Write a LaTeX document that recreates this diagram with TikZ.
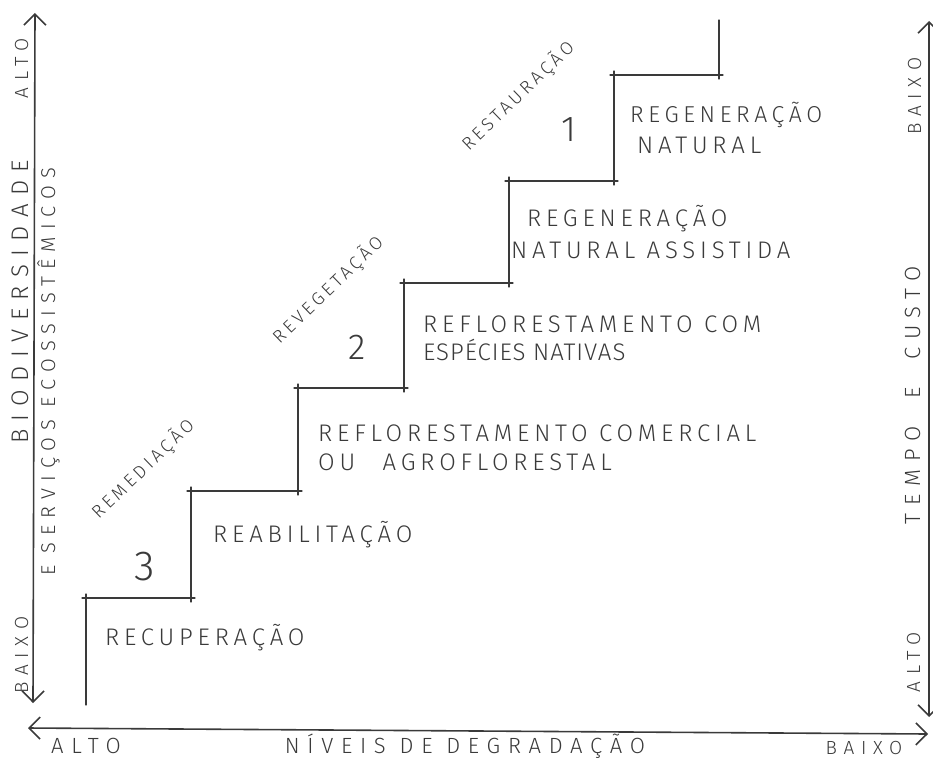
\documentclass[tikz,border=0pt]{standalone}
\usepackage{fontspec}
\newfontfamily\handfont[LetterSpace=20]{Fira Sans Light}
\newfontfamily\handwide[LetterSpace=35]{Fira Sans Light}
\newfontfamily\handtight[LetterSpace=4]{Fira Sans Light}
\usetikzlibrary{arrows.meta}
\definecolor{pencil}{HTML}{3A3A3A}
\tikzset{
  axis/.style={pencil, line width=1.6pt, {Straight Barb[length=11pt,width=22pt]}-{Straight Barb[length=11pt,width=22pt]}},
  stair/.style={pencil, line width=1.1pt, shorten <=-4pt, shorten >=-4pt},
  axislabel/.style={pencil, font=\handwide\fontsize{22}{22}\selectfont, inner sep=0pt, anchor=base},
  endlabel/.style={axislabel, font=\handwide\fontsize{19}{19}\selectfont},
  steplabel/.style={pencil, font=\handfont\fontsize{24}{24}\selectfont, inner sep=0pt, anchor=base west},
  phaselabel/.style={pencil, rotate=44, font=\handfont\fontsize{18}{18}\selectfont, inner sep=0pt},
  steplevel/.style={pencil, font=\handfont\fontsize{36}{36}\selectfont, inner sep=0pt}
}
\begin{document}
\begin{tikzpicture}[x=1pt, y=-1pt, line cap=round]
    \useasboundingbox (0,0) rectangle (933,760);
    % axes
    \coordinate (ytop) at (35,13);
    \coordinate (ybot) at (33,703);
    \coordinate (xleft) at (28,728);
    \coordinate (xright) at (928,734);
    \coordinate (ztop) at (929,21);
    \coordinate (zbot) at (929,717);
    \draw[axis] (ybot) -- (ytop);
    \draw[axis] (xleft) -- (xright);
    \draw[axis] (zbot) -- (ztop);
    \node[endlabel, rotate=90] (yalto) at (28,68) {ALTO};
    \node[axislabel, rotate=90, font=\handwide\fontsize{24}{24}\selectfont] (ybio) at (28,302) {BIODIVERSIDADE};
    \node[axislabel, rotate=90, font=\handwide\fontsize{20}{20}\selectfont] (yserv) at (55,372) {E SERVIÇOS ECOSSISTÊMICOS};
    \node[endlabel, rotate=90] (ybaixo) at (28,655) {BAIXO};
    \node[axislabel] (xalto) at (86,753) {ALTO};
    \node[axislabel] (xname) at (465,753) {NÍVEIS DE DEGRADAÇÃO};
    \node[endlabel] (xbaixo) at (864,754) {BAIXO};
    \node[endlabel, rotate=90] (zbaixo) at (921,96) {BAIXO};
    \node[axislabel, rotate=90] (zname) at (920,395) {TEMPO\hspace{14pt} E\hspace{14pt} CUSTO};
    \node[endlabel, rotate=90] (zalto) at (920,662) {ALTO};
    % stairs
    \coordinate (s0) at (86,701);
    \coordinate (s1) at (86,598);
    \coordinate (s2) at (191,598);
    \coordinate (s3) at (191,491);
    \coordinate (s4) at (298,491);
    \coordinate (s5) at (298,388);
    \coordinate (s6) at (404,388);
    \coordinate (s7) at (404,283);
    \coordinate (s8) at (509,283);
    \coordinate (s9) at (509,181);
    \coordinate (s10) at (614,181);
    \coordinate (s11) at (614,75);
    \coordinate (s12) at (719,75);
    \coordinate (s13) at (719,24);
    \draw[stair] (s0) -- (s1);
    \draw[stair] (s1) -- (s2);
    \draw[stair] (s2) -- (s3);
    \draw[stair] (s3) -- (s4);
    \draw[stair] (s4) -- (s5);
    \draw[stair] (s5) -- (s6);
    \draw[stair] (s6) -- (s7);
    \draw[stair] (s7) -- (s8);
    \draw[stair] (s8) -- (s9);
    \draw[stair] (s9) -- (s10);
    \draw[stair] (s10) -- (s11);
    \draw[stair] (s11) -- (s12);
    \draw[stair] (s12) -- (s13);
    % step texts
    \node[steplabel] (recup) at (105,645) {RECUPERAÇÃO};
    \node[steplabel] (reab) at (213,542) {REABILITAÇÃO};
    \node[steplabel] (reflcom1) at (318,441) {REFLORESTAMENTO COMERCIAL};
    \node[steplabel] (reflcom2) at (318,470) {OU\hspace{16pt} AGROFLORESTAL};
    \node[steplabel] (reflnat1) at (423,332) {REFLORESTAMENTO COM};
    \node[steplabel, font=\handtight\fontsize{24}{24}\selectfont] (reflnat2) at (423,360) {ESPÉCIES NATIVAS};
    \node[steplabel] (regass1) at (527,226) {REGENERAÇÃO};
    \node[steplabel] (regass2) at (511,258) {NATURAL ASSISTIDA};
    \node[steplabel, font=\handfont\fontsize{23}{23}\selectfont] (regnat1) at (630,122) {REGENERAÇÃO};
    \node[steplabel] (regnat2) at (637,153) {NATURAL};
    % phases
    \node[phaselabel] (remed) at (143,469) {REMEDIAÇÃO};
    \node[phaselabel] (reveg) at (328,290) {REVEGETAÇÃO};
    \node[phaselabel] (restaur) at (518,96) {RESTAURAÇÃO};
    \node[steplevel, font=\handfont\fontsize{42}{42}\selectfont] (lvthree) at (145,567) {3};
    \node[steplevel] (lvtwo) at (357,347) {2};
    \node[steplevel] (lvone) at (569,130) {1};
\end{tikzpicture}
\end{document}
